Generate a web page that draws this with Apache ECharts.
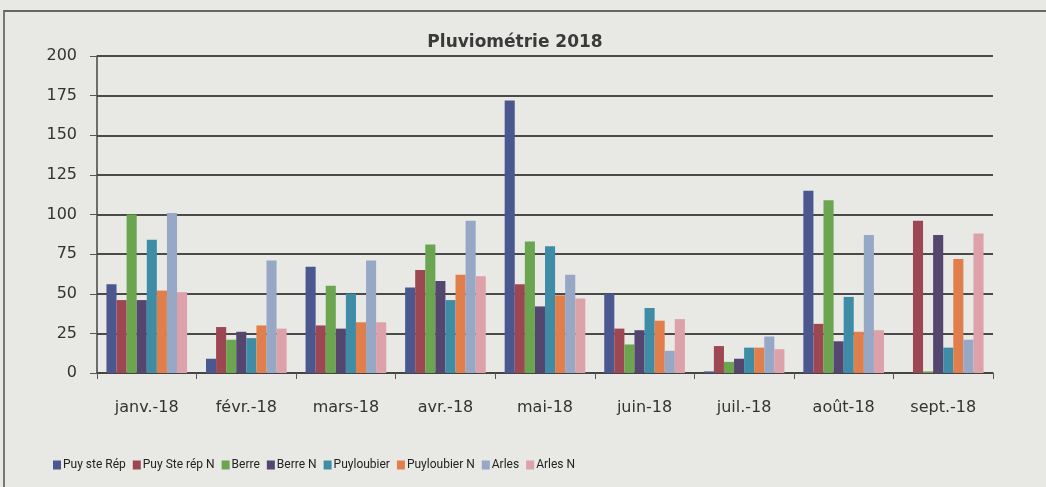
<!DOCTYPE html>
<html>
<head>
<meta charset="utf-8">
<script src="https://cdn.jsdelivr.net/npm/echarts@6/dist/echarts.min.js"></script>
<style>
  html, body { margin: 0; padding: 0; background: #e8e8e5; }
  #frame { position: absolute; left: 3px; top: 10px; width: 1043px; height: 477px;
    border-top: 2px solid #666; border-left: 2px solid #777; box-sizing: border-box; }
  #chart { position: absolute; left: 0; top: 0; width: 1046px; height: 487px; }
</style>
</head>
<body>
<div id="frame"></div>
<div id="chart"></div>
<script>
const months = ['janv.-18', 'févr.-18', 'mars-18', 'avr.-18', 'mai-18', 'juin-18', 'juil.-18', 'août-18', 'sept.-18']

const puyStRep = [56, 9, 67, 54, 172, 50, 1, 115, 0]
const puyStRepN = [46, 29, 30, 65, 56, 28, 17, 31, 96]
const berre = [100, 21, 55, 81, 83, 18, 7, 109, 1]
const berreN = [46, 26, 28, 58, 42, 27, 9, 20, 87]
const puyloubier = [84, 22, 50, 46, 80, 41, 16, 48, 16]
const puyloubierN = [52, 30, 32, 62, 49, 33, 16, 26, 72]
const arles = [101, 71, 71, 96, 62, 14, 23, 87, 21]
const arlesN = [51, 28, 32, 61, 47, 34, 15, 27, 88]

const seriesNames = ['Puy ste Rép', 'Puy Ste rép N', 'Berre', 'Berre N', 'Puyloubier', 'Puyloubier N', 'Arles', 'Arles N']
const seriesData = [puyStRep, puyStRepN, berre, berreN, puyloubier, puyloubierN, arles, arlesN]
const colors = ['#4b5890', '#9c4751', '#6ba54f', '#54466e', '#3f8ca6', '#e07f4c', '#97a7c6', '#dca1a9']

const font = 'DejaVu Sans'

let myChart = echarts.init(document.getElementById('chart'))

let option = {
  animation: false,
  color: colors,
  title: {
    text: 'Pluviométrie 2018',
    left: 510, top: 29, textAlign: 'center',
    textStyle: {fontFamily: font, fontSize: 17, fontWeight: 'bold', color: '#3a3a3a'}
  },
  legend: {
    left: 48, top: 454,
    itemWidth: 8, itemHeight: 9, itemGap: 7,
    icon: 'rect',
    textStyle: {fontFamily: 'Roboto', fontSize: 12, color: '#222', padding: [0, 0, 0, -3]},
    data: seriesNames
  },
  grid: {left: 97, right: 53, top: 56, bottom: 114},
  xAxis: {
    type: 'category',
    data: months,
    axisLine: {lineStyle: {color: '#444', width: 1.5}},
    axisTick: {show: true, length: 6, lineStyle: {color: '#555'}},
    axisLabel: {fontFamily: font, fontSize: 16, color: '#333', margin: 27}
  },
  yAxis: {
    type: 'value',
    min: 0, max: 200, interval: 25,
    axisLine: {show: true, lineStyle: {color: '#444', width: 1.5}},
    axisTick: {show: true, length: 7, lineStyle: {color: '#555'}},
    splitLine: {lineStyle: {color: '#4a4a4a', width: 1.8}},
    axisLabel: {fontFamily: font, fontSize: 16, color: '#333', margin: 20}
  },
  series: seriesNames.map((name, i) => ({
    name: name,
    type: 'bar',
    data: seriesData[i],
    barGap: '0%',
    barCategoryGap: '19%'
  }))
}
myChart.setOption(option)
</script>
</body>
</html>
